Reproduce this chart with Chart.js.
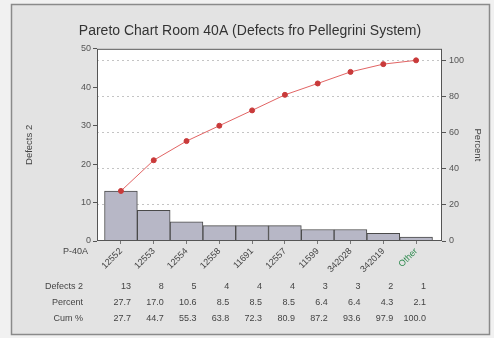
<!DOCTYPE html>
<html>
<head>
<meta charset="utf-8">
<script src="https://cdn.jsdelivr.net/npm/chart.js@4.4.1/dist/chart.umd.min.js"></script>
<style>
  html, body { margin: 0; padding: 0; background: #f1f1f1; }
</style>
</head>
<body>
<canvas id="paretoChart" width="494" height="338"></canvas>
<script>
/* ===========================
Data
=========================== */

const parts = ["12552", "12553", "12554", "12558", "11691", "12557", "11599", "342028", "342019", "Other"];
const defects = [13, 8, 5, 4, 4, 4, 3, 3, 2, 1];
const percent = [27.7, 17.0, 10.6, 8.5, 8.5, 8.5, 6.4, 6.4, 4.3, 2.1];
const cumPercent = [27.7, 44.7, 55.3, 63.8, 72.3, 80.9, 87.2, 93.6, 97.9, 100.0];
const countTicks = [0, 10, 20, 30, 40, 50];
const percentTicks = [0, 20, 40, 60, 80, 100];

const totalDefects = defects.reduce((a, b) => a + b, 0);
const textFont = '"Liberation Sans", Arial, sans-serif';

/* ===========================
Background, frame and table
=========================== */

const paretoFrame = {

    id: "paretoFrame",

    beforeDraw(chart) {
        const { ctx, chartArea: a } = chart;
        ctx.save();
        ctx.fillStyle = "#f1f1f1";
        ctx.fillRect(0, 0, chart.width, chart.height);
        ctx.fillStyle = "#e3e3e3";
        ctx.fillRect(11, 4, 479, 331);
        ctx.strokeStyle = "#8a8a8a";
        ctx.lineWidth = 1.5;
        ctx.strokeRect(11.5, 4.5, 478, 330);
        ctx.fillStyle = "#ffffff";
        ctx.fillRect(a.left, a.top, a.width, a.height);
        ctx.restore();
    },

    afterDraw(chart) {
        const { ctx, chartArea: a } = chart;
        const x = chart.scales.x;
        ctx.save();

        // plot box
        ctx.strokeStyle = "#555";
        ctx.lineWidth = 1;
        ctx.strokeRect(a.left + 0.5, a.top + 0.5, a.width - 1, a.height - 1);

        ctx.fillStyle = "#444";
        ctx.font = "9px " + textFont;
        ctx.textBaseline = "middle";
        ctx.textAlign = "right";

        ctx.fillText("P-40A", 88, 252);

        const rows = [
            ["Defects 2", defects.map(v => String(v)), 287],
            ["Percent", percent.map(v => v.toFixed(1)), 303],
            ["Cum %", cumPercent.map(v => v.toFixed(1)), 319]
        ];

        rows.forEach(row => {
            ctx.fillText(row[0], 83, row[2]);
            row[1].forEach((txt, i) => {
                ctx.fillText(txt, x.getPixelForValue(i) + 10, row[2]);
            });
        });

        ctx.restore();
    }
};

/* ===========================
Pareto Chart
=========================== */

const paretoCtx = document.getElementById("paretoChart");

new Chart(paretoCtx, {

    type: "bar",

    data: {

        datasets: [
            {
                type: "line",
                label: "Cum %",
                yAxisID: "yPct",
                order: 0,
                data: cumPercent.map((v, i) => ({ x: i, y: v })),
                borderColor: "#e26464",
                borderWidth: 1,
                pointRadius: 2.5,
                pointBackgroundColor: "#c93a3a",
                pointBorderColor: "#c93a3a",
                tension: 0
            },
            {
                label: "Defects 2",
                yAxisID: "yCount",
                order: 1,
                data: defects.map((v, i) => ({ x: i, y: v })),
                backgroundColor: "#b7b7c6",
                borderColor: "#4a4a4a",
                borderWidth: 1,
                barPercentage: 1,
                categoryPercentage: 1
            }
        ]

    },

    options: {

        responsive: false,
        animation: false,
        devicePixelRatio: 1,

        layout: {
            padding: { left: 14, right: 8, top: 8, bottom: 0 }
        },

        plugins: {
            legend: { display: false },
            tooltip: { enabled: false },
            title: {
                display: true,
                text: "Pareto Chart Room 40A (Defects fro Pellegrini System)",
                color: "#333",
                font: { family: textFont, size: 14, weight: "normal" },
                padding: { top: 15, bottom: 9 }
            }
        },

        scales: {

            x: {
                type: "linear",
                offset: false,
                min: -0.73,
                max: 9.79,
                afterBuildTicks: s => { s.ticks = parts.map((p, i) => ({ value: i })); },
                afterFit: s => { s.height = 97; },
                grid: { drawOnChartArea: false, offset: false, tickLength: 3, color: "#777" },
                border: { display: false },
                ticks: {
                    autoSkip: false,
                    minRotation: 45,
                    maxRotation: 45,
                    padding: 2,
                    font: { family: textFont, size: 9 },
                    color: c => c.index === parts.length - 1 ? "#2f8a4f" : "#444",
                    callback: (v, i) => parts[i]
                }
            },

            yCount: {
                position: "left",
                min: countTicks[0],
                max: countTicks[countTicks.length - 1],
                afterBuildTicks: s => { s.ticks = countTicks.map(v => ({ value: v })); },
                afterFit: s => { s.width = 83; },
                grid: { drawOnChartArea: false, tickLength: 4, color: "#555" },
                border: { display: false },
                ticks: { padding: 2, color: "#555", font: { family: textFont, size: 9 } },
                title: {
                    display: true,
                    text: "Defects 2",
                    color: "#444",
                    font: { family: textFont, size: 9.5 },
                    padding: { top: 10 }
                }
            },

            yPct: {
                position: "right",
                min: 0,
                max: countTicks[countTicks.length - 1] / totalDefects * 100,
                afterBuildTicks: s => { s.ticks = percentTicks.map(v => ({ value: v })); },
                afterFit: s => { s.width = 44; },
                grid: {
                    drawOnChartArea: true,
                    color: c => c.tick && c.tick.value === 0 ? "rgba(0,0,0,0)" : "#c4c4c4",
                    tickColor: "#555",
                    tickLength: 4
                },
                border: { display: false, dash: [2, 3] },
                ticks: { padding: 3, color: "#555", font: { family: textFont, size: 9 } },
                title: {
                    display: true,
                    text: "Percent",
                    color: "#444",
                    font: { family: textFont, size: 9.5 },
                    padding: { top: 3 }
                }
            }

        }

    },

    plugins: [paretoFrame]

});
</script>
</body>
</html>
